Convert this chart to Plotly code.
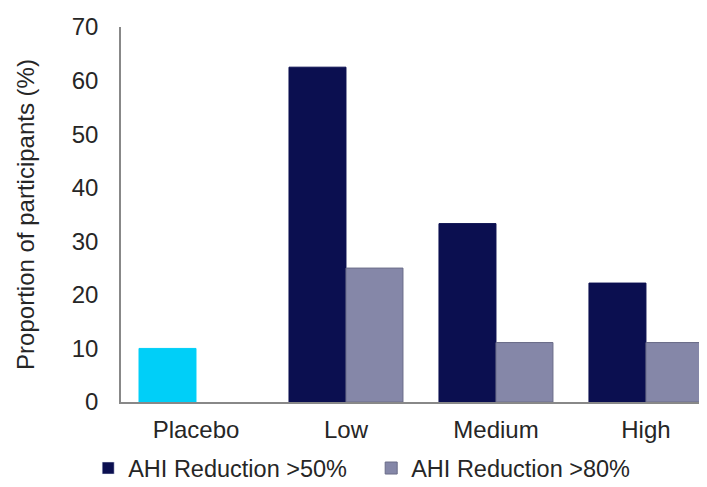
import plotly.graph_objects as go

categories = ["Placebo", "Low", "Medium", "High"]
reduction_50 = [10, 62.5, 33.3, 22.2]
reduction_80 = [None, 25, 11.1, 11.1]
series_names = ["AHI Reduction >50%", "AHI Reduction >80%"]
y_ticks = [0, 10, 20, 30, 40, 50, 60, 70]

navy = "#0b0f50"
gray = "#8587a8"
cyan = "#00cff8"

x_idx = list(range(len(categories)))
bw = 0.38

fig = go.Figure()
fig.add_trace(go.Bar(
    x=x_idx, y=reduction_50, name=series_names[0], width=bw, offset=-bw,
    marker=dict(color=[cyan, navy, navy, navy], line=dict(color=[cyan, navy, navy, navy], width=1)),
    showlegend=False,
))
fig.add_trace(go.Bar(
    x=[None], y=[None], name=series_names[0], marker=dict(color=navy), showlegend=True,
))
fig.add_trace(go.Bar(
    x=x_idx, y=reduction_80, name=series_names[1], width=bw, offset=0,
    marker=dict(color=gray, line=dict(color="#6a6c88", width=1)), showlegend=True,
))

fig.update_layout(
    width=699, height=479,
    margin=dict(l=113, r=0, t=19, b=85, autoexpand=False),
    paper_bgcolor="white", plot_bgcolor="white",
    barmode="overlay",
    font=dict(family="Liberation Sans, Arial, sans-serif", size=24, color="#262626"),
    showlegend=True,
    legend=dict(orientation="h", x=-0.056, xanchor="left", y=-0.118, yanchor="top",
                traceorder="normal", font=dict(size=23.5), entrywidth=238, entrywidthmode="pixels",
                itemwidth=30, bgcolor="rgba(0,0,0,0)", borderwidth=0),
    xaxis=dict(
        range=[-0.5, 3.907 - 0.5], tickmode="array", tickvals=x_idx, ticktext=categories,
        showline=True, linecolor="#888888", linewidth=1.5, ticks="", showgrid=False,
        zeroline=False, ticklabelstandoff=5, automargin=False,
    ),
    yaxis=dict(
        range=[0, 70], tickmode="array", tickvals=y_ticks,
        showline=True, linecolor="#888888", linewidth=1.5, ticks="", showgrid=False,
        zeroline=False, ticklabelstandoff=16, automargin=False,
        title=dict(text="Proportion of participants (%)", font=dict(size=24), standoff=30),
    ),
)

fig.write_html("out.html")
